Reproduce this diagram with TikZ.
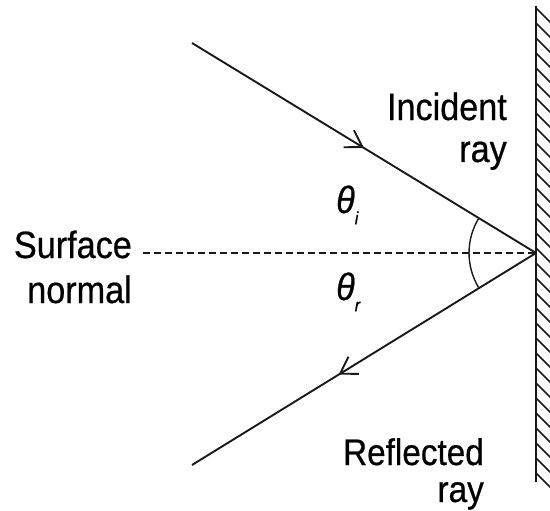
\documentclass[tikz,border=0pt]{standalone}
\usepackage{fontspec}
\setmainfont[FakeStretch=0.9,FakeBold=0.6]{Liberation Sans}
\usetikzlibrary{arrows.meta,decorations.markings}
\begin{document}
\begin{tikzpicture}[x=1pt,y=-1pt,
  ray/.style={line width=1.9pt,draw=black!90},
  lbl/.style={inner sep=0pt,align=right,anchor=base east},
  ang/.style={inner sep=0pt,anchor=base west,font=\fontsize{38}{40}\selectfont\itshape},
  barb/.style={decoration={markings,mark=at position #1 with {\arrow{Straight Barb[length=16pt,width=20pt,line width=1.9pt]}}},postaction={decorate}},
  hatch/.style={line width=1.6pt,draw=black!90}]
\useasboundingbox (0,0) rectangle (550,511);
\coordinate (P) at (536,253);
\coordinate (A) at (192,43);
\coordinate (B) at (192,465);
\coordinate (N) at (143,253);
\coordinate (Mt) at (536,6);
\coordinate (Mb) at (536,482);
% mirror
\draw[hatch] (Mt) -- (Mb);
\begin{scope}
\clip (536,0) rectangle (550,490);
\foreach \y in {8,23,...,475} { \draw[hatch] (536,\y) -- ++(16,16); }
\end{scope}
% normal
\draw[ray,dash pattern=on 7pt off 4pt,line width=1.6pt] (N) -- (P);
% rays
\draw[ray,barb=0.5] (A) -- (P);
\draw[ray,barb=0.574] (P) -- (B);
% angle arc
\draw[line width=1.4pt,draw=black!90] (P) ++(-57.1,-35) arc[start angle=211.5,end angle=148.5,radius=67];
% labels
\node[lbl,font=\fontsize{38}{34}\selectfont] (inc) at (507,162) {Incident\\[8pt]ray};
\node[lbl,font=\fontsize{37}{34}\selectfont] (ref) at (484,502) {Reflected\\[3pt]ray};
\node[lbl,font=\fontsize{38}{34}\selectfont] (sn) at (132,303) {Surface\\[11pt]normal};
\node[ang] (ti) at (336,213) {θ\raisebox{-0.3em}{\fontsize{18}{18}\selectfont i}};
\node[ang] (tr) at (336,300) {θ\raisebox{-0.3em}{\fontsize{18}{18}\selectfont r}};
\end{tikzpicture}
\end{document}
